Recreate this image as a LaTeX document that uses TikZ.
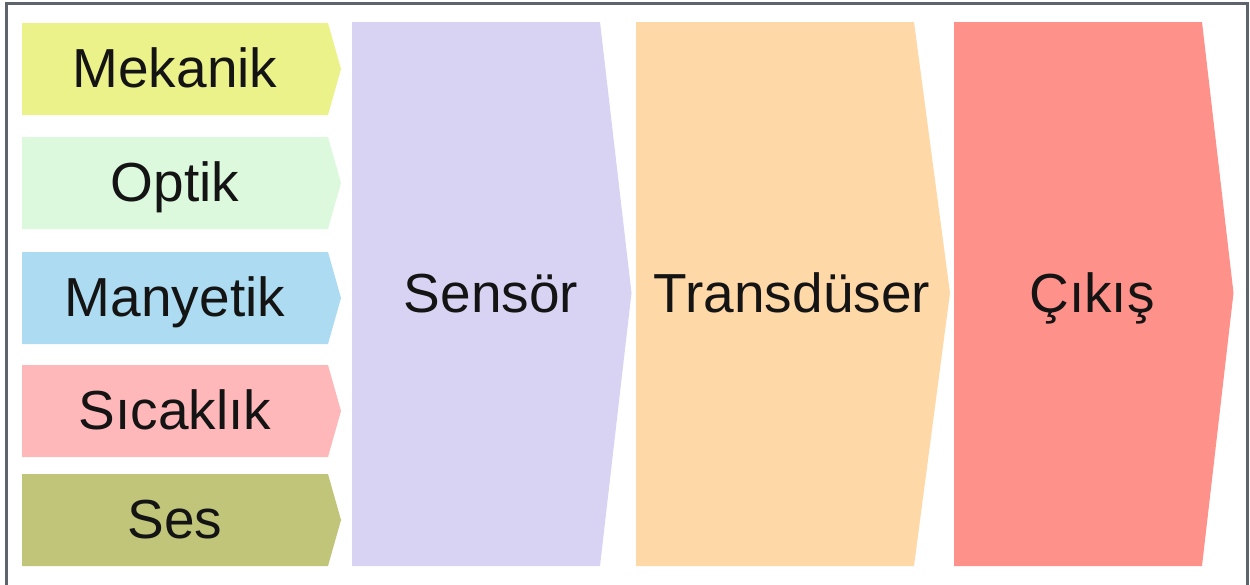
\documentclass[tikz,border=0pt]{standalone}
\usepackage{fontspec}
\setmainfont{Liberation Sans}
\definecolor{cMek}{HTML}{ECF28A}
\definecolor{cOpt}{HTML}{DDF9DD}
\definecolor{cMan}{HTML}{ADDCF2}
\definecolor{cSic}{HTML}{FFB8BA}
\definecolor{cSes}{HTML}{C0C57A}
\definecolor{cSen}{HTML}{D9D3F3}
\definecolor{cTra}{HTML}{FFD8A8}
\definecolor{cCik}{HTML}{FF918B}
\definecolor{cFrame}{HTML}{5E646C}
\definecolor{cText}{HTML}{141414}
\begin{document}
\begin{tikzpicture}[x=1pt,y=-1pt,
  lbl/.style={text=cText,font=\fontsize{55}{60}\selectfont,inner sep=0pt,anchor=base},
  frameline/.style={draw=cFrame,line width=2.6pt}]
\useasboundingbox (0,0) rectangle (1250,584);
\fill[white] (0,0) rectangle (1250,584);
\draw[frameline] (6.5,590) -- (6.5,3.2) -- (1247.5,3.2) -- (1247.5,590);
% small input chevrons
\foreach \t/\c/\n in {23/cMek/a,137/cOpt/b,252/cMan/c,365/cSic/d,474/cSes/e}{
  \fill[\c] (22,\t) -- (328,\t) -- (341,\t+46) -- (328,\t+92) -- (22,\t+92) -- cycle;
  \coordinate (\n) at (175,\t+64);
}
\node[lbl] (mek) at (a) {Mekanik};
\node[lbl] (opt) at (b) {Optik};
\node[lbl] (man) at (c) {Manyetik};
\node[lbl] (sic) at (d) {Sıcaklık};
\node[lbl] (ses) at (e) {Ses};
% large chevrons
\fill[cSen] (352,22) -- (600,22) -- (631.5,293) -- (600,566) -- (352,566) -- cycle;
\fill[cTra] (636,22) -- (914,22) -- (950,293) -- (914,566) -- (636,566) -- cycle;
\fill[cCik] (954,22) -- (1202,22) -- (1233.5,293) -- (1202,566) -- (954,566) -- cycle;
\node[lbl] (sen) at (491,312) {Sensör};
\node[lbl] (tra) at (792,312) {Transdüser};
\node[lbl] (cik) at (1092,312) {Çıkış};
\end{tikzpicture}
\end{document}
